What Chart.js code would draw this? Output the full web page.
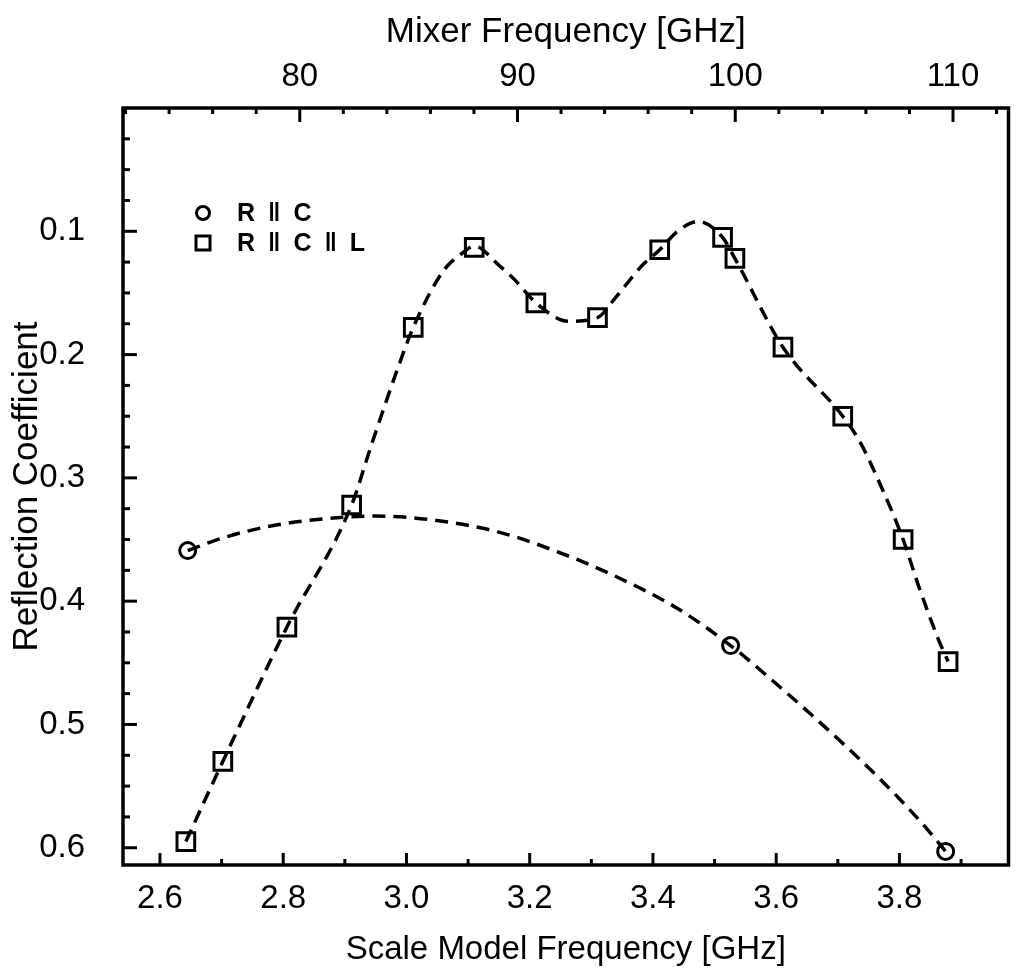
<!DOCTYPE html>
<html>
<head>
<meta charset="utf-8">
<script src="https://cdn.jsdelivr.net/npm/chart.js@4.4.0/dist/chart.umd.min.js"></script>
<style>
  body { margin: 0; background: #fff; }
</style>
</head>
<body>
<canvas id="reflexion" width="1024" height="979"></canvas>
<script>
const circleFreq = [2.645, 3.526, 3.875];
const circleRefl = [0.359, 0.436, 0.603];
const squareFreq = [2.642, 2.702, 2.806, 2.911, 3.011, 3.110, 3.210, 3.310, 3.411, 3.513, 3.533, 3.611, 3.708, 3.806, 3.879];
const squareRefl = [0.595, 0.530, 0.421, 0.322, 0.178, 0.113, 0.158, 0.170, 0.115, 0.105, 0.122, 0.194, 0.250, 0.350, 0.449];

// curvas discontinuas (leidas sobre la linea)
const circleFitFreq = [2.645, 2.70, 2.78, 2.87, 2.95, 3.04, 3.15, 3.24, 3.34, 3.44, 3.526, 3.60, 3.69, 3.77, 3.84, 3.875];
const circleFitRefl = [0.359, 0.349, 0.339, 0.333, 0.331, 0.334, 0.344, 0.359, 0.380, 0.406, 0.436, 0.467, 0.507, 0.545, 0.582, 0.603];
const squareFitFreq = [2.642, 2.702, 2.806, 2.911, 2.942, 2.986, 3.011, 3.060, 3.090, 3.110, 3.151, 3.175, 3.210, 3.263, 3.310, 3.339, 3.382, 3.411, 3.440, 3.473, 3.513, 3.533, 3.611, 3.708, 3.735, 3.773, 3.806, 3.832, 3.864, 3.879];
const squareFitRefl = [0.595, 0.530, 0.421, 0.322, 0.275, 0.211, 0.178, 0.132, 0.118, 0.112, 0.128, 0.139, 0.158, 0.173, 0.170, 0.154, 0.128, 0.115, 0.100, 0.092, 0.105, 0.122, 0.194, 0.250, 0.270, 0.310, 0.350, 0.389, 0.432, 0.449];

// ejes
const xMajor = [2.6, 2.8, 3.0, 3.2, 3.4, 3.6, 3.8];
const xTickLabels = ['2.6', '2.8', '3.0', '3.2', '3.4', '3.6', '3.8'];
const xMinor = [2.7, 2.9, 3.1, 3.3, 3.5, 3.7, 3.9];
const mixerMajor = [80, 90, 100, 110];
const mixerTickLabels = ['80', '90', '100', '110'];
const mixerMinor = [72, 74, 76, 78, 82, 84, 86, 88, 92, 94, 96, 98, 102, 104, 106, 108, 112];
const yMajor = [0.1, 0.2, 0.3, 0.4, 0.5, 0.6];
const yTickLabels = ['0.1', '0.2', '0.3', '0.4', '0.5', '0.6'];
const yMinor = [0.025, 0.05, 0.075, 0.125, 0.15, 0.175, 0.225, 0.25, 0.275, 0.325, 0.35, 0.375, 0.425, 0.45, 0.475, 0.525, 0.55, 0.575];
const mixerPerScale = 28.3;
const xMin = 2.54, xMax = 3.977;
const yMin = 0, yMax = 0.614;

function toPoints(xs, ys) {
  return xs.map((x, i) => ({ x: x, y: ys[i] }));
}
function isMajor(major, v) {
  return major.some(m => Math.abs(m - v) < 1e-6);
}
function buildTicks(major, minor) {
  return major.concat(minor).sort((a, b) => a - b).map(v => ({ value: v }));
}
function labelFor(major, labels) {
  return function(value) {
    const i = major.findIndex(m => Math.abs(m - value) < 1e-6);
    return i >= 0 ? labels[i] : '';
  };
}

Chart.defaults.font.family = "'Liberation Sans', Arial, sans-serif";
Chart.defaults.color = '#000';

// marco y marcas hacia dentro
const marcasDentro = {
  id: 'marcasDentro',
  afterDraw(chart) {
    const ctx = chart.ctx;
    const a = chart.chartArea;
    const line = (x1, y1, x2, y2) => { ctx.beginPath(); ctx.moveTo(x1, y1); ctx.lineTo(x2, y2); ctx.stroke(); };
    ctx.save();
    ctx.strokeStyle = '#000';
    ctx.lineWidth = 3.5;
    ctx.strokeRect(a.left, a.top, a.right - a.left, a.bottom - a.top);
    ctx.lineWidth = 3;
    const sx = chart.scales.x, st = chart.scales.xTop, sy = chart.scales.y;
    sx.ticks.forEach(t => {
      const p = sx.getPixelForValue(t.value);
      line(p, a.bottom, p, a.bottom - (isMajor(xMajor, t.value) ? 12 : 6));
    });
    st.ticks.forEach(t => {
      const p = st.getPixelForValue(t.value);
      line(p, a.top, p, a.top + (isMajor(mixerMajor, t.value) ? 14 : 6));
    });
    sy.ticks.forEach(t => {
      const p = sy.getPixelForValue(t.value);
      line(a.left, p, a.left + (isMajor(yMajor, t.value) ? 14 : 7), p);
    });
    ctx.restore();
  }
};

// leyenda dentro del grafico
const leyenda = {
  id: 'leyenda',
  afterDraw(chart) {
    const ctx = chart.ctx;
    const a = chart.chartArea;
    ctx.save();
    ctx.strokeStyle = '#000';
    ctx.fillStyle = '#000';
    ctx.lineWidth = 3;
    ctx.font = "bold 25px 'Liberation Sans', Arial, sans-serif";
    ctx.letterSpacing = '3px';
    ctx.textBaseline = 'middle';
    [0, 1].forEach(i => {
      const ds = chart.data.datasets[i];
      const y = a.top + 105 + i * 30;
      const x = a.left + 80;
      ctx.beginPath();
      if (ds.pointStyle === 'circle') {
        ctx.arc(x, y, 6.5, 0, Math.PI * 2);
      } else {
        ctx.rect(x - 7, y - 7, 14, 14);
      }
      ctx.stroke();
      ctx.fillText(ds.label, a.left + 114, y + 1);
    });
    ctx.restore();
  }
};

new Chart(document.getElementById('reflexion'), {
  type: 'scatter',
  data: {
    datasets: [
      {
        label: 'R \u2016 C',
        data: toPoints(circleFreq, circleRefl),
        showLine: false,
        pointStyle: 'circle',
        pointRadius: 8,
        pointBorderWidth: 3,
        borderColor: '#000',
        backgroundColor: 'rgba(0,0,0,0)',
      },
      {
        label: 'R \u2016 C \u2016 L',
        data: toPoints(squareFreq, squareRefl),
        showLine: false,
        pointStyle: 'rect',
        pointRadius: 12.5,
        pointBorderWidth: 3,
        borderColor: '#000',
        backgroundColor: 'rgba(0,0,0,0)',
      },
      {
        label: 'ajuste R C',
        data: toPoints(circleFitFreq, circleFitRefl),
        showLine: true,
        pointRadius: 0,
        borderColor: '#000',
        borderWidth: 3.5,
        borderDash: [13, 8],
        cubicInterpolationMode: 'monotone',
      },
      {
        label: 'ajuste R C L',
        data: toPoints(squareFitFreq, squareFitRefl),
        showLine: true,
        pointRadius: 0,
        borderColor: '#000',
        borderWidth: 3.5,
        borderDash: [13, 8],
        cubicInterpolationMode: 'monotone',
      },
    ],
  },
  options: {
    responsive: false,
    animation: false,
    devicePixelRatio: 1,
    layout: { padding: { left: 0, right: 7, top: 0, bottom: 0 } },
    plugins: {
      legend: { display: false },
      tooltip: { enabled: false },
    },
    scales: {
      x: {
        type: 'linear',
        position: 'bottom',
        min: xMin,
        max: xMax,
        afterBuildTicks: s => { s.ticks = buildTicks(xMajor, xMinor); },
        afterFit: s => { s.height = 114; },
        grid: { display: false, drawTicks: false },
        border: { display: false },
        ticks: { autoSkip: false, maxRotation: 0, padding: 14, font: { size: 33 }, callback: labelFor(xMajor, xTickLabels) },
        title: { display: true, text: 'Scale Model Frequency [GHz]', font: { size: 33 }, padding: { top: 0, bottom: 9 } },
      },
      xTop: {
        type: 'linear',
        position: 'top',
        min: xMin * mixerPerScale,
        max: xMax * mixerPerScale,
        afterBuildTicks: s => { s.ticks = buildTicks(mixerMajor, mixerMinor); },
        afterFit: s => { s.height = 108; },
        grid: { display: false, drawTicks: false },
        border: { display: false },
        ticks: { autoSkip: false, maxRotation: 0, padding: 11, font: { size: 33 }, callback: labelFor(mixerMajor, mixerTickLabels) },
        title: { display: true, text: 'Mixer Frequency [GHz]', font: { size: 35 }, padding: { top: 11, bottom: 0 } },
      },
      y: {
        type: 'linear',
        position: 'left',
        reverse: true,
        min: yMin,
        max: yMax,
        afterBuildTicks: s => { s.ticks = buildTicks(yMajor, yMinor); },
        afterFit: s => { s.width = 123; },
        grid: { display: false, drawTicks: false },
        border: { display: false },
        ticks: { autoSkip: false, padding: 38, font: { size: 33 }, callback: labelFor(yMajor, yTickLabels) },
        title: { display: true, text: 'Reflection Coefficient', font: { size: 35 }, padding: { top: 6, bottom: 0 } },
      },
    },
  },
  plugins: [marcasDentro, leyenda],
});
</script>
</body>
</html>
